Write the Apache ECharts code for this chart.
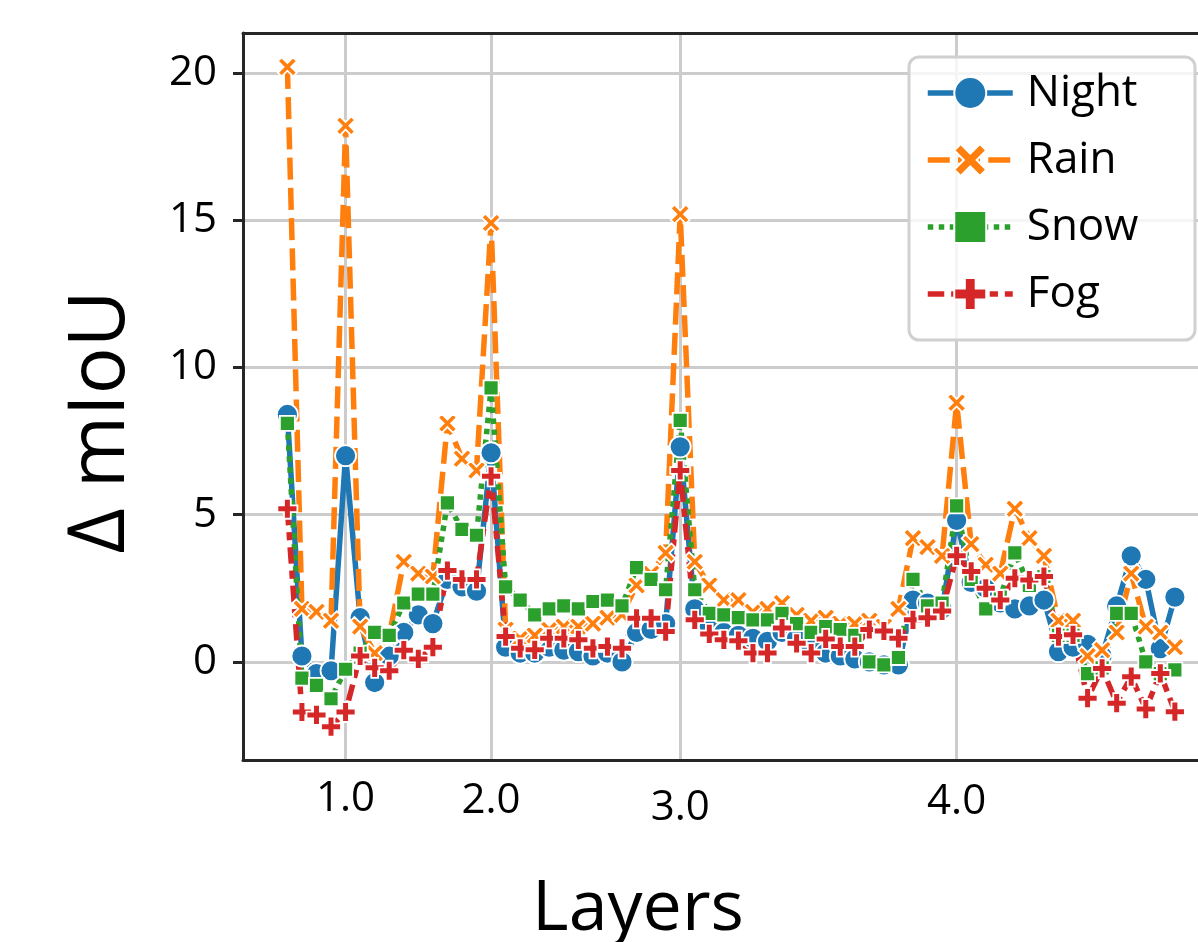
<!DOCTYPE html>
<html>
<head>
<meta charset="utf-8">
<script src="https://cdn.jsdelivr.net/npm/echarts@6/dist/echarts.min.js"></script>
<style>html,body{margin:0;padding:0;background:#fff}#c{width:1198px;height:942px}</style>
</head>
<body>
<div id="c"></div>
<script>
const seriesNames = ['Night', 'Rain', 'Snow', 'Fog'];
const night = [8.4,0.2,-0.4,-0.3,7.0,1.5,-0.7,0.2,1.0,1.6,1.3,2.8,2.55,2.4,7.1,0.5,0.3,0.3,0.5,0.4,0.35,0.2,0.3,0.0,1.0,1.1,1.3,7.3,1.8,1.2,1.0,0.9,0.8,0.7,1.0,0.8,0.5,0.3,0.2,0.1,0.0,-0.1,-0.1,2.1,2.0,1.8,4.8,2.7,2.5,2.0,1.8,1.9,2.1,0.35,0.5,0.6,0.2,1.9,3.6,2.8,0.45,2.2];
const rain = [20.2,1.8,1.7,1.4,18.2,1.2,0.3,0.9,3.4,3.0,2.9,8.1,6.9,6.5,14.9,1.1,0.8,0.9,1.1,1.2,1.2,1.3,1.5,1.6,2.6,3.0,3.7,15.2,3.4,2.6,2.1,2.1,1.7,1.8,2.0,1.6,1.4,1.5,1.3,1.3,1.4,1.2,1.8,4.2,3.9,3.6,8.8,4.0,3.3,3.0,5.2,4.2,3.6,1.4,1.4,0.2,0.4,1.0,3.0,1.2,1.0,0.5];
const snow = [8.1,-0.55,-0.8,-1.25,-0.25,0.3,1.0,0.9,2.0,2.3,2.3,5.4,4.5,4.3,9.3,2.55,2.1,1.6,1.8,1.9,1.8,2.05,2.1,1.9,3.2,2.8,2.45,8.2,2.45,1.65,1.6,1.5,1.43,1.43,1.65,1.3,1.0,1.2,1.1,0.9,0.0,-0.1,0.15,2.8,1.9,2.0,5.3,2.8,1.8,2.2,3.7,2.6,2.9,0.9,0.9,-0.4,-0.2,1.65,1.65,0.0,-0.4,-0.27];
const fog = [5.2,-1.7,-1.8,-2.2,-1.7,0.2,-0.2,-0.3,0.4,0.1,0.5,3.1,2.8,2.8,6.3,0.86,0.46,0.41,0.8,0.8,0.75,0.46,0.52,0.46,1.48,1.48,1.03,6.5,1.43,0.95,0.75,0.72,0.3,0.3,1.15,0.63,0.3,0.78,0.52,0.52,1.1,1.05,0.8,1.43,1.5,1.73,3.6,3.07,2.5,2.1,2.84,2.78,2.9,0.86,0.92,-1.23,-0.22,-1.4,-0.5,-1.6,-0.39,-1.69];
const xTickPositions = [4, 14, 27, 46];
const xTickLabels = ['1.0', '2.0', '3.0', '4.0'];
const yTicks = [0, 5, 10, 15, 20];
const xAxisTitle = 'Layers';
const yAxisTitle = 'Δ mIoU';

const FONT = '"Open Sans", "Noto Sans", sans-serif';
const colors = ['#1f77b4', '#ff7f0e', '#2ca02c', '#d62728'];
const X_PATH = 'path://M0,2 L2,0 L5,3 L8,0 L10,2 L7,5 L10,8 L8,10 L5,7 L2,10 L0,8 L3,5 Z';
const PLUS_PATH = 'path://M3.3,0 H6.7 V3.3 H10 V6.7 H6.7 V10 H3.3 V6.7 H0 V3.3 H3.3 Z';
const symbols = ['circle', X_PATH, 'rect', PLUS_PATH];
const sizes = [21, 19, 15, 20];
const LW = 5.5;
const dashes = ['solid', [22, 8.25], [5.5, 5.5], [16.5, 6.9, 8.25, 6.9]];
const values = [night, rain, snow, fog];
const labelDrop = [0, 2, 9, 3];

const series = seriesNames.map((name, k) => ({
  name: name,
  type: 'line',
  data: values[k].map((v, i) => [i, v]),
  symbol: symbols[k],
  symbolSize: sizes[k],
  symbolKeepAspect: true,
  showSymbol: true,
  showAllSymbol: true,
  itemStyle: { color: colors[k], borderColor: '#fff', borderWidth: 1.8 },
  lineStyle: { color: colors[k], width: LW, type: dashes[k], cap: 'butt' },
  emphasis: { disabled: true },
  animation: false
}));

const rich = {};
labelDrop.forEach((d, i) => {
  rich['t' + i] = { fontSize: 42, fontFamily: FONT, color: '#000', padding: [d, 0, 0, 0] };
});

const chart = echarts.init(document.getElementById('c'), null, { renderer: 'canvas' });
chart.setOption({
  backgroundColor: '#fff',
  animation: false,
  grid: { left: 243, top: 33, width: 955, height: 727 },
  xAxis: [{
    type: 'value', min: -3.05, max: 62.59,
    axisLine: { show: true, onZero: false, lineStyle: { color: '#262626', width: 3 } },
    axisTick: { show: false, customValues: xTickPositions },
    axisLabel: {
      customValues: xTickPositions,
      fontSize: 42, color: '#000', fontFamily: FONT, margin: 18,
      formatter: function (v) {
        const i = xTickPositions.indexOf(Math.round(v));
        return i >= 0 ? '{t' + i + '|' + xTickLabels[i] + '}' : '';
      },
      rich: rich
    },
    splitLine: { show: true, lineStyle: { color: '#cccccc', width: 3 } }
  }, {
    type: 'value', min: -3.05, max: 62.59, position: 'top',
    axisLine: { show: true, onZero: false, lineStyle: { color: '#262626', width: 3 } },
    axisTick: { show: false }, axisLabel: { show: false }, splitLine: { show: false }
  }],
  yAxis: {
    type: 'value', min: -3.33, max: 21.35,
    axisLine: { show: true, onZero: false, lineStyle: { color: '#262626', width: 3 } },
    axisTick: { show: true, customValues: yTicks, length: 10, lineStyle: { color: '#262626', width: 3 } },
    axisLabel: { customValues: yTicks, fontSize: 42, color: '#000', fontFamily: FONT, margin: 26 },
    splitLine: { show: true, lineStyle: { color: '#cccccc', width: 3 } }
  },
  legend: {
    data: seriesNames,
    orient: 'vertical',
    left: 925, top: 68,
    padding: 0,
    itemWidth: 85, itemHeight: 40, itemGap: 17,
    lineStyle: { width: LW },
    textStyle: { fontSize: 44, lineHeight: 50, color: '#000', fontFamily: FONT, padding: [0, 0, 0, 9] },
    z: 20
  },
  graphic: [
    { type: 'rect', z: 15, shape: { x: 909, y: 57, width: 286, height: 283, r: 10 },
      style: { fill: 'rgba(255,255,255,0.8)', stroke: '#d0d0d0', lineWidth: 3 } },
    { type: 'text', z: 15, x: 102, y: 422, rotation: Math.PI / 2,
      style: { text: yAxisTitle, fontSize: 78, fontFamily: FONT, fill: '#000', textAlign: 'center', textVerticalAlign: 'middle' } },
    { type: 'text', z: 15, x: 638, y: 910,
      style: { text: xAxisTitle, fontSize: 70, fontFamily: FONT, fill: '#000', textAlign: 'center', textVerticalAlign: 'middle' } }
  ],
  series: series
});
</script>
</body>
</html>
